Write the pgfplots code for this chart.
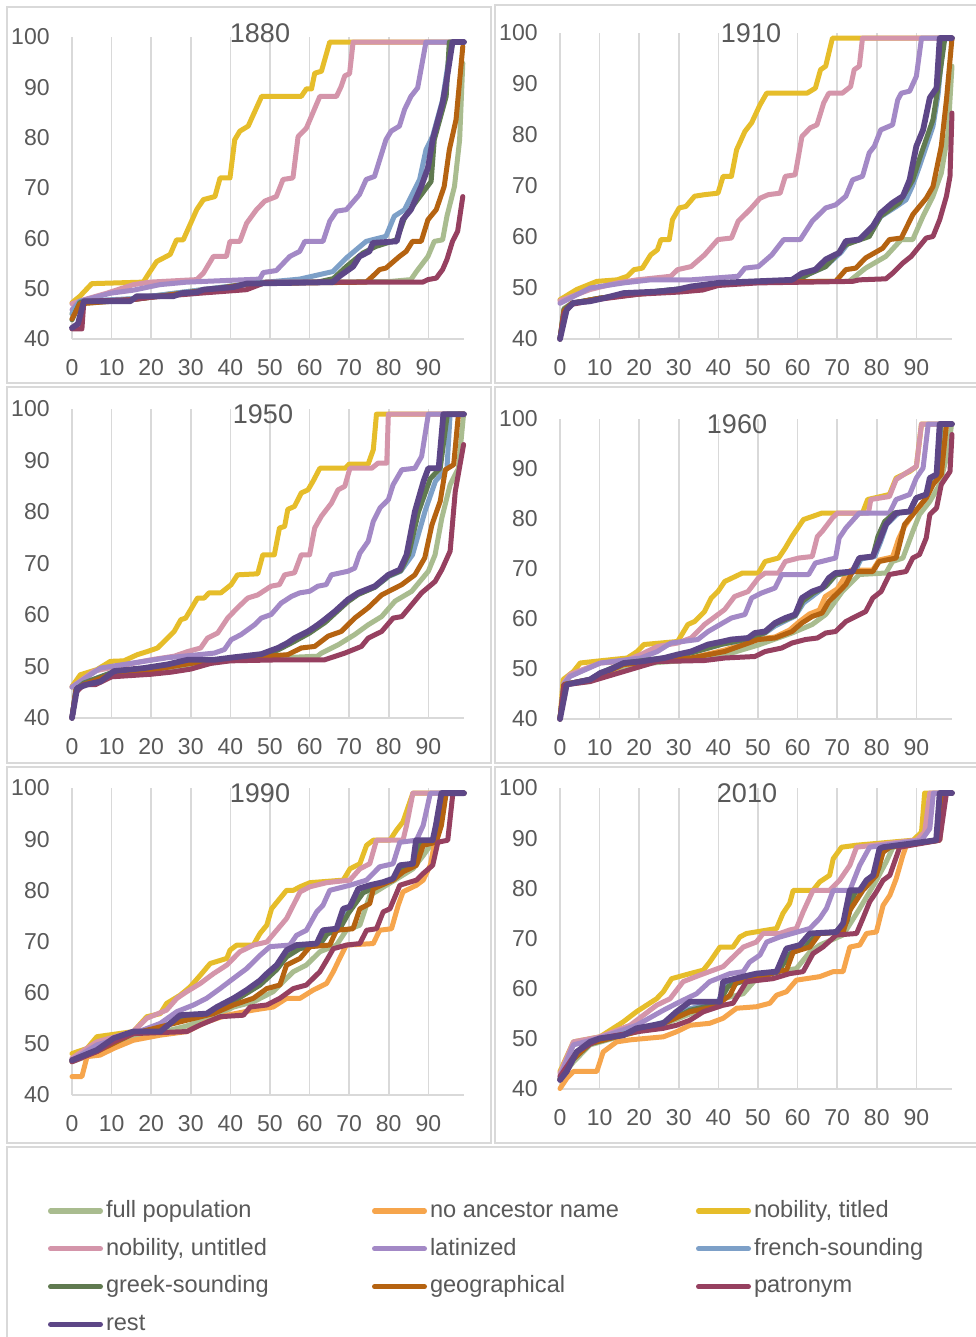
\documentclass[border=0pt]{standalone}
\usepackage{fontspec}
\setmainfont{Liberation Sans}
\usepackage{pgfplots}
\pgfplotsset{compat=1.18}
\definecolor{textgray}{HTML}{595959}
\definecolor{gridgray}{HTML}{D9D9D9}
\definecolor{cFull}{HTML}{A9BC8F}
\definecolor{cNoAnc}{HTML}{F6A54C}
\definecolor{cTitled}{HTML}{E6BD2A}
\definecolor{cUntitled}{HTML}{D495AA}
\definecolor{cLatin}{HTML}{A389C6}
\definecolor{cFrench}{HTML}{7DA0C8}
\definecolor{cGreek}{HTML}{607A50}
\definecolor{cGeo}{HTML}{B56311}
\definecolor{cPatr}{HTML}{964060}
\definecolor{cRest}{HTML}{5D4787}
\newcommand{\tickfont}{\fontsize{11.5}{13}\selectfont}
\newcommand{\titlefont}{\fontsize{13.5}{15}\selectfont}
\newcommand{\legfont}{\fontsize{11.8}{13}\selectfont}
\pgfplotsset{
  s1/.style={draw=cFull, line width=2.5pt, line join=round, line cap=round},
  s2/.style={draw=cNoAnc, line width=2.5pt, line join=round, line cap=round},
  s3/.style={draw=cTitled, line width=2.5pt, line join=round, line cap=round},
  s4/.style={draw=cUntitled, line width=2.5pt, line join=round, line cap=round},
  s5/.style={draw=cLatin, line width=2.5pt, line join=round, line cap=round},
  s6/.style={draw=cFrench, line width=2.5pt, line join=round, line cap=round},
  s7/.style={draw=cGreek, line width=2.5pt, line join=round, line cap=round},
  s8/.style={draw=cGeo, line width=2.5pt, line join=round, line cap=round},
  s9/.style={draw=cPatr, line width=2.5pt, line join=round, line cap=round},
  s10/.style={draw=cRest, line width=2.9pt, line join=round, line cap=round},
  panel/.style={
    scale only axis, width=196pt,
    xmin=0, xmax=99, ymin=40, ymax=100,
    xtick={0,10,...,90}, ytick={40,50,...,100},
    xmajorgrids, major grid style={draw=gridgray, line width=0.8pt},
    axis x line*=bottom, axis y line*=left,
    x axis line style={draw=gridgray, line width=0.8pt, -},
    y axis line style={draw=none},
    major tick length=0pt, tick style={draw=none},
    /pgf/number format/assume math mode=true,
    xticklabel style={font=\tickfont, text=textgray, inner sep=0pt, yshift=-10pt},
    yticklabel style={font=\tickfont, text=textgray, inner sep=0pt, xshift=-11pt},
    clip=false, anchor=south west, no markers,
  },
}
\begin{document}
\begin{tikzpicture}
\path[fill=white, use as bounding box] (0pt,0pt) rectangle (487.5pt,-668.5pt);
% panel frames
\begin{scope}[draw=gridgray, line width=0.9pt]
\draw (3.5pt,-3.5pt) rectangle (245.5pt,-191.5pt);
\draw (247.5pt,-2.5pt) rectangle (492pt,-191.5pt);
\draw (3.5pt,-193.5pt) rectangle (245.5pt,-381.5pt);
\draw (247.5pt,-193.5pt) rectangle (492pt,-381.5pt);
\draw (3.5pt,-383.5pt) rectangle (245.5pt,-571.5pt);
\draw (247.5pt,-383.5pt) rectangle (492pt,-571.5pt);
\draw (3.5pt,-573.5pt) rectangle (492pt,-672pt);
\end{scope}

% ---------------- 1880 ----------------
\begin{axis}[panel, height=151pt, at={(36pt,-169.5pt)}]
\addplot[s1] coordinates {(0,45)(1,47)(10,47.5)(20,48.5)(30,49.5)(40,50.5)(48,51.3)(80,51.4)(85.6,51.8)(87,53.4)(89.9,56.4)(91.5,59.4)(93.6,59.7)(94.7,64.4)(96.6,70.3)(97.9,79.6)(98.7,94.8)};
\addplot[s3] coordinates {(0,47.2)(2,48.5)(5,51)(18,51.3)(19.7,53.4)(21.4,55.4)(24.8,56.8)(26.4,59.7)(28.1,59.7)(31.5,65.7)(33.2,67.7)(36.1,68.3)(37.4,72)(39.9,72)(41.1,79.6)(42.4,81.3)(44.5,82.3)(47.9,88.2)(57.9,88.2)(59.2,89.7)(60.5,89.7)(61.3,92.8)(63,93.2)(65.1,99)(99,99)};
\addplot[s4] coordinates {(0,47)(3,47.8)(8.8,49.1)(15.5,50.8)(19.7,51.3)(31.5,51.8)(33.2,53.1)(35.7,56.4)(39,56.4)(39.9,59.4)(42.4,59.4)(44.1,63)(46.6,65.7)(48.7,67.4)(51.6,68.3)(53.3,71.7)(55.8,72)(57.1,80.2)(59.2,81.9)(62.6,88.2)(66.8,88.2)(68,90.2)(68.9,92.3)(70.1,92.7)(71,99)(99,99)};
\addplot[s5] coordinates {(0,45.8)(2,47.5)(9.7,49.1)(15.5,49.7)(22.2,50.8)(29,51.3)(47.4,51.9)(48.3,53.2)(51.6,53.6)(55,56.4)(57.5,57.4)(58.8,59.4)(63.4,59.4)(65.1,63.4)(66.8,65.4)(69.3,65.7)(72.6,68.7)(74.3,71.7)(76.4,72.3)(79.3,79.6)(80.6,81.3)(82.7,82.3)(84,85.6)(85.6,88.2)(87.3,89.9)(89.4,99)(99,99)};
\addplot[s6] coordinates {(0,45)(2,47.5)(15,48)(25,49)(35,50)(45,51)(57.5,51.9)(65.9,53.4)(69.3,56.1)(74.3,59.4)(79.3,60.4)(81.4,64.4)(84,65.7)(87.8,71.7)(89.4,77.6)(91.1,80.3)(93.6,87.5)(95.8,99)(99,99)};
\addplot[s7] coordinates {(0,43.8)(2,47.3)(15,47.8)(25,48.8)(35,49.8)(45,51)(62,51.3)(66,52)(69.3,54.4)(73.5,57.1)(76.8,58.4)(82,59.7)(84,64.1)(87,67.4)(90.7,71.3)(91.5,79.6)(94.5,88.2)(95.3,99)(99,99)};
\addplot[s8] coordinates {(0,44)(2,47)(15,47.8)(25,48.8)(35,49.8)(45,51)(74.3,51.3)(76,52.5)(77.7,53.8)(79.3,54.1)(82.7,56.4)(84.4,57.4)(86,59.4)(88.2,59.4)(89.9,63.7)(92,65.7)(94,70.3)(95.3,77.6)(97,83.6)(98.7,98.1)};
\addplot[s9] coordinates {(0,42)(2.5,42)(3,47.5)(15,47.8)(20,48.3)(32.3,49.1)(44.1,49.8)(47.4,50.8)(49.1,51.3)(88.6,51.3)(89.9,51.8)(92,52.1)(93.6,53.8)(94.7,55.8)(96.1,59.4)(97.4,61.4)(98.7,68.3)};
\addplot[s10] coordinates {(0,42.2)(1.5,43)(3,47.5)(14.7,47.5)(16.4,48.5)(25.6,48.5)(27.7,49.1)(31.5,49.3)(33.2,49.8)(40.7,50.3)(44.1,51)(65.9,51.3)(67.6,52.5)(71,54.4)(72.6,56.4)(75.1,57.4)(76,59.1)(82,59.4)(83.5,63.7)(85.6,65.7)(88.2,70.3)(89.9,74)(91.1,79.6)(93.6,86.9)(94.5,90.9)(96.1,99)(99,99)};
\end{axis}

% ---------------- 1910 ----------------
\begin{axis}[panel, height=153pt, at={(280pt,-169.5pt)}]
\addplot[s1] coordinates {(0,40)(1,46)(3,47)(10,48)(20,49)(30,49.7)(40,50.7)(50,51.3)(73,51.3)(77.2,53.9)(82.3,56.2)(86.2,59.5)(89.1,59.5)(91.7,64.1)(94.2,68)(96.3,72.5)(98,80.4)(99,93.5)};
\addplot[s3] coordinates {(0,47.7)(4.2,49.7)(9.3,51.3)(14.4,51.6)(17,52.3)(18.7,53.6)(20.8,53.9)(22.9,56.5)(24.6,57.5)(25.5,59.5)(27.6,59.5)(28.4,63.4)(30.1,65.7)(31.8,66)(34,68)(36.5,68.3)(39.9,68.6)(41.2,71.9)(43.3,71.9)(44.6,77.1)(46.7,80.7)(48.4,82.4)(50.5,85.9)(52.2,88.2)(62.4,88.2)(64.5,89.2)(65.8,92.8)(67.1,93.5)(68.8,99)(99,99)};
\addplot[s4] coordinates {(0,47.5)(7.6,49.7)(14.4,51)(19.5,51.6)(28,52.3)(29.7,53.6)(33.1,54.2)(36.5,56.5)(39.9,59.5)(43.3,59.8)(45,63.1)(48,65.4)(50.5,67.6)(52.6,68.3)(55.6,68.6)(56.9,71.9)(59.4,72.2)(61.1,79.7)(63.2,81.4)(64.9,82)(66.6,86.3)(67.9,88.2)(71.3,88.2)(73.4,89.5)(74.3,92.8)(75.6,93.5)(76.4,99)(99,99)};
\addplot[s5] coordinates {(0,47)(7.6,50)(16.1,51)(22.9,51.6)(33.1,51.6)(45,52.3)(46.7,53.9)(50.1,54.2)(53.5,56.5)(56.5,59.5)(60.7,59.5)(63.7,63.1)(67.1,65.7)(69.6,66.3)(72.2,68)(73.9,71.2)(76.4,71.9)(78.1,76.5)(79.4,77.8)(81,81)(84,82)(85.3,86.9)(86.2,88.2)(88.3,88.6)(90,91.5)(91.3,99)(99,99)};
\addplot[s6] coordinates {(0,40)(1,45.5)(3,47)(10,48)(20,49)(30,49.8)(40,50.8)(60,51.6)(63,52.8)(67,54.2)(71,57)(73,59)(78,60.2)(81,64)(85,66)(87.4,67.3)(89,70)(90.8,73.9)(94.2,81.7)(95.5,88)(96.8,99)(99,99)};
\addplot[s7] coordinates {(0,40)(1,45.8)(3,47)(10,48)(20,49)(30,49.8)(40,50.8)(60,51.6)(63,52.8)(67.1,54.2)(72.2,58.5)(78.1,60.1)(81,64.1)(85.7,66.7)(89.1,71.2)(91.3,76.5)(94.2,83)(95.5,89.5)(97.2,99)(99,99)};
\addplot[s8] coordinates {(0,40)(1,45.5)(3,47)(10,48)(20,48.8)(30,49.5)(40,50.7)(50,51.2)(69.6,51.3)(72.2,53.6)(74.7,53.9)(77.2,55.9)(81.5,57.8)(83.2,59.5)(86.2,59.8)(89.1,64.4)(92.5,67.6)(94.2,69.9)(96.3,77.8)(97.6,86.9)(99,99)};
\addplot[s9] coordinates {(0,40)(1,45)(3,46.8)(10,47.8)(20,48.8)(30,49.2)(36,49.6)(40,50.5)(50,51)(73.9,51.3)(75.6,51.6)(82.3,51.8)(84,52.9)(86.6,54.9)(88.7,56.2)(90.8,58.2)(92.5,59.8)(94.2,60.1)(95.9,63.4)(97.6,68)(98.5,71.9)(99,84.3)};
\addplot[s10] coordinates {(0,40)(1.7,45.8)(3.4,47.1)(7.6,47.4)(11,48)(16.1,49)(24.6,49.3)(29.7,49.7)(33.1,50.3)(39.9,51)(58.6,51.6)(61.1,52.9)(64.5,53.6)(67.1,55.6)(70.5,56.9)(72.2,59.2)(75.6,59.5)(79,62.1)(81,64.7)(84,66.7)(86.6,68)(88.3,71.2)(90,77.8)(91.7,81)(93.4,87.3)(95.1,89.2)(95.9,99)(99,99)};
\end{axis}

% ---------------- 1950 ----------------
\begin{axis}[panel, height=154.5pt, at={(36pt,-359pt)}]
\addplot[s1] coordinates {(0,40)(1,45.5)(3,46.5)(10,48.5)(20,49.2)(30,50.2)(40,51.2)(50,51.6)(62,52)(63,52.6)(67.2,54.2)(71.4,56.2)(74.8,58.1)(78.2,59.7)(81.6,62.7)(85.8,64.6)(90,68.5)(91.7,71.7)(93.4,78.8)(95.5,85.3)(97.6,88.5)(98.9,99)};
\addplot[s3] coordinates {(0,46.1)(2.1,48.4)(6.3,49.4)(9.7,51)(13.1,51.1)(16.5,52.3)(19,52.9)(21.6,53.6)(24.1,55.5)(25.8,56.8)(27.5,59.1)(28.7,59.4)(31.7,63.3)(33.4,63.3)(34.6,64.3)(37.6,64.3)(40.2,65.9)(41.8,67.8)(46.9,68)(48.2,71.7)(51.1,71.7)(52.4,76.9)(53.7,77.2)(54.5,80.5)(56.2,81.1)(57.9,83.7)(59.6,84.3)(60.9,86)(62.6,88.5)(69,88.5)(70,89.3)(74.8,89.3)(76.1,92.1)(76.9,99)(99,99)};
\addplot[s4] coordinates {(0,46)(5.5,49.1)(13.9,50.4)(19.9,51.3)(25.8,52)(29.2,52.9)(32.5,53.6)(34.2,55.5)(36.8,56.5)(39.3,59.4)(41.8,61.4)(44.4,63.3)(46.9,63.9)(50.3,65.6)(52.4,65.9)(53.7,67.8)(56.2,68.2)(57.9,71.7)(60,71.7)(61.3,76.9)(63,79.2)(65.5,81.7)(67.2,84.3)(68.9,85)(70.2,88.5)(75.7,88.5)(77.3,89.5)(79.5,89.5)(79.9,99)(99,99)};
\addplot[s5] coordinates {(0,46)(7.2,49.7)(15.6,50.7)(24.1,51.7)(35.9,52.6)(38.5,53.3)(40.2,55.2)(42.7,56.2)(46.1,58.1)(47.8,59.4)(50.3,60.1)(52.8,62.3)(55.4,63.6)(57.5,64.3)(60,64.6)(62.1,65.6)(64.2,65.9)(65.5,67.8)(69.7,68.5)(71.4,69.1)(72.7,72)(74.8,74.3)(76.1,78.2)(77.8,80.8)(79.9,82.4)(81.1,85.3)(83.3,88.2)(86.6,88.5)(88.3,90.8)(90,99)(99,99)};
\addplot[s6] coordinates {(0,40)(1,45.5)(3,46.8)(10,48.8)(20,49.7)(30,50.8)(40,51.5)(48,52.2)(52,53.3)(56,55)(60,56.6)(64,58.8)(66.4,60.5)(69.7,62.8)(72.3,64.1)(76.5,65.4)(80,67.5)(83,68.5)(86,71.7)(89.3,80.5)(91.8,86)(94.7,88.5)(95.5,99)(99,99)};
\addplot[s7] coordinates {(0,40)(1,45.5)(3,46.8)(10,48.8)(20,49.7)(30,50.8)(40,51.5)(48,52.2)(52,53.2)(56,54.8)(60,56.5)(64,58.6)(66.4,60.3)(69.7,62.6)(72.3,64)(76.5,65.4)(80,67.6)(83,68.6)(85,71.7)(87.5,80)(90.5,86.5)(93,88.5)(94.8,99)(99,99)};
\addplot[s8] coordinates {(0,40)(1,45.5)(3,46.5)(10,48.5)(20,49.3)(30,50.6)(40,51.3)(48,51.6)(49.5,52)(54.5,52.3)(57.9,53.6)(61.3,53.9)(64.7,55.9)(68,56.8)(71.4,59.4)(74.8,61.4)(78.2,63.9)(83.3,65.9)(86.6,67.8)(89.1,71.1)(90.9,77.5)(93,82.1)(94.3,88.2)(96.4,89.2)(97.6,99)(99,99)};
\addplot[s9] coordinates {(0,40)(1,45)(3,46.5)(6,46.5)(10,48)(20,48.5)(25,48.9)(30,49.5)(35,50.6)(40,51.1)(53,51.3)(63.8,51.3)(68.9,52.6)(73.1,53.9)(74.8,55.5)(78.2,56.8)(81.1,59.4)(83.3,59.7)(85.8,62)(88.3,64.3)(91.7,66.5)(93.4,68.8)(95.5,72.4)(96.8,84)(98.9,93.1)};
\addplot[s10] coordinates {(0,40)(1.3,45.8)(3.8,46.5)(7.2,47.1)(10.6,49.1)(18.2,49.7)(24.1,50.4)(29.2,51.3)(35.9,51.3)(41,51.8)(47.8,52.4)(52,53.6)(54.5,54.6)(56.2,55.5)(59.6,56.8)(62.1,58.1)(63.8,59.1)(66.4,60.7)(69.7,63)(72.3,64.3)(76.5,65.6)(79.9,67.8)(82.8,68.8)(84.5,71.7)(86.6,80.1)(88.8,86)(90,88.5)(92.6,88.5)(93.8,99)(99,99)};
\end{axis}

% ---------------- 1960 ----------------
\begin{axis}[panel, height=150pt, at={(280pt,-359.5pt)}]
\addplot[s1] coordinates {(0,40)(1,46.9)(7.6,47.5)(16.1,50.5)(24.6,51.3)(33.1,51.8)(41.6,52.8)(50.1,54.8)(58.6,57.2)(63.7,58.9)(67.1,60.9)(71.3,65.5)(75.6,68.9)(82.3,69.2)(84,71.5)(86.6,72.2)(89.1,77.5)(90.8,80.9)(93.4,83.5)(95.9,86.9)(98,93.5)(98.9,99)};
\addplot[s2] coordinates {(0,40)(1,46.9)(7.6,47.9)(16.1,50.9)(33.1,52.2)(41.6,53.8)(50.1,56)(54.3,56.4)(58,57.8)(60.5,59.5)(63,61)(65.5,61.8)(67,64.5)(70,66)(72,68.5)(73.5,69.8)(79,69.8)(80.6,71.8)(84,72.4)(85.5,76)(87,78.5)(89.1,80.9)(92.5,84.2)(94.2,86.9)(96.3,88.9)(97.6,99)(99,99)};
\addplot[s3] coordinates {(0,40)(0.8,47.9)(3.4,49.5)(5.1,51.2)(8.5,51.5)(17,52.2)(19.5,53.5)(21.2,54.9)(29.7,55.5)(32.3,58.9)(34,59.5)(36.5,61.5)(38.2,64.2)(39.9,65.5)(41.6,67.5)(46.1,69.2)(50.1,69.2)(51.8,71.5)(55.2,72.2)(56.9,74.2)(58.6,76.5)(61.5,79.9)(63.7,80.5)(66.2,81.2)(76.4,81.2)(77.7,83.9)(83.2,84.9)(84.9,88.2)(88.3,89.5)(90,90.5)(91.3,99)(99,99)};
\addplot[s4] coordinates {(0,40)(1,47.2)(2.5,48.9)(6.8,50.2)(10.2,51.2)(16.1,51.5)(20.4,52.9)(24.6,54.5)(29.7,55.2)(33.1,56.2)(36.5,58.9)(39.9,60.9)(41.6,61.9)(44.1,64.5)(47.5,65.5)(50.1,68.2)(51.8,69.2)(55.2,69.2)(56.9,71.5)(60.3,72.2)(63.7,72.5)(65,76.5)(66.2,77.5)(68.8,80.2)(70.1,81.2)(77.9,81.2)(78.5,83.9)(83.2,84.5)(84.9,87.9)(87.4,89.2)(90,90.5)(91.3,99)(99,99)};
\addplot[s5] coordinates {(0,40)(1,47)(2.5,48.5)(10.2,51.2)(20.4,52.2)(24.6,53.5)(28,55.2)(34.8,55.9)(37.4,57.5)(41.1,59.2)(43.3,60.2)(46.7,60.9)(48.4,64.2)(50.9,65.2)(54.3,66.2)(56,68.9)(62.8,68.9)(64.5,71.2)(69.6,72.2)(70.5,76.2)(72.2,78.2)(75.6,81.2)(83.2,81.2)(84.9,83.9)(88.3,84.9)(90,88.2)(91.7,90.2)(93,99)(99,99)};
\addplot[s6] coordinates {(0,40)(1,46.9)(7.6,47.9)(10.2,49.2)(16.1,51.2)(26.3,52.2)(33.1,53.3)(41.1,55)(47.5,55.9)(51.8,57.2)(54.3,58.6)(59.4,60.6)(61.5,63.2)(64.5,65)(67.5,66.8)(69.6,68.8)(74.5,69.5)(76,72)(79.5,72.5)(81,75.5)(82.5,78.9)(85.5,81.2)(88.3,81.5)(90,84.2)(92.5,84.9)(93.8,88.2)(95.5,88.9)(96.3,99)(99,99)};
\addplot[s7] coordinates {(0,40)(1,46.9)(7.6,47.9)(10.2,49.2)(16.1,51.2)(26.3,52.2)(33.1,53.2)(41.1,55)(47.5,56)(51.8,57.3)(54.3,59)(59.4,60.7)(61.3,63.6)(64,65.2)(67,66.5)(69.6,68.8)(74,69.5)(75.8,72.2)(79,72.5)(80.3,76.5)(82,79.5)(84.5,81.2)(88.3,81.5)(90,84.2)(92.5,84.9)(93.6,88.2)(95.3,88.9)(96.1,99)(99,99)};
\addplot[s8] coordinates {(0,40)(1,46.9)(7.6,47.9)(16.1,50.9)(33.1,52.2)(41.6,53.5)(50.1,55.9)(54.3,56.2)(58.6,57.5)(61.1,59.2)(63.7,60.5)(66.2,61.2)(67.9,63.5)(70.5,65.5)(72.2,66.9)(73.9,69.5)(79,69.5)(80.6,71.5)(84.9,72.2)(87,78.9)(89.1,80.9)(92.5,84.2)(94.2,86.9)(96.3,88.9)(97.6,99)(99,99)};
\addplot[s9] coordinates {(0,40)(1,46.8)(7.6,47.5)(16.1,49.5)(24.6,51.5)(36.5,51.7)(41.6,52.2)(49.2,52.5)(51.8,53.5)(56,54.2)(58.6,55.2)(62,55.9)(65,56.2)(67.1,57.2)(69.6,57.5)(72.2,59.5)(74.7,60.5)(77.2,61.5)(79,64.2)(81.1,65.5)(83.2,68.9)(87.4,69.5)(89.1,72.2)(90.8,72.9)(92.5,76.2)(93.4,80.9)(95.1,82.2)(96.3,86.9)(98.5,89.5)(99,96.9)};
\addplot[s10] coordinates {(0,40)(1.7,46.9)(7.6,47.9)(10.2,49.2)(12.7,49.9)(16.1,51.2)(20.4,51.5)(26.3,52.2)(29.7,52.9)(33.1,53.5)(37.4,54.9)(41.1,55.5)(43.3,55.9)(47.5,56.2)(49.2,57.2)(51.8,57.5)(54.3,59.2)(56.9,60.2)(59.4,60.9)(61.1,64.2)(63.7,65.5)(66.2,66.2)(67.9,68.2)(69.6,69.2)(73.9,69.5)(75.6,72.2)(79,72.5)(80.6,75.5)(82.3,78.9)(84.9,81.2)(88.3,81.5)(90,84.2)(92.5,84.9)(93.4,88.2)(95.1,88.9)(95.9,99)(99,99)};
\end{axis}

% ---------------- 1990 ----------------
\begin{axis}[panel, height=153.5pt, at={(36pt,-547.5pt)}]
\addplot[s1] coordinates {(0,46.5)(6.3,48.3)(10.5,50)(15.5,51.5)(22.3,52.2)(29,53.5)(35.7,55.3)(40.8,57.2)(45.8,58.2)(50.8,60.2)(55.9,64.1)(59.2,65.4)(62.6,68)(66.8,69.3)(69.3,72.2)(72.7,73.2)(75.2,79)(79.4,81)(82.8,82.6)(86.1,84.2)(88.7,86.8)(91.1,89.4)(92.8,92.7)(94.5,99)(99,99)};
\addplot[s2] coordinates {(0,43.6)(2.5,43.6)(3.8,47.5)(7.1,47.8)(10.5,49.1)(15.5,50.7)(22.3,51.7)(29,52.4)(34,54.3)(39.1,55.6)(45.8,56.6)(50.8,57.2)(54.2,58.9)(57.6,58.9)(60.9,60.5)(64.3,61.8)(66,64.1)(67.6,66.7)(69.3,69.3)(76.1,69.6)(77.7,72.2)(80.7,72.5)(82.4,77.1)(83.6,79.7)(87,81)(88.7,82)(90.5,84.9)(91.7,89.8)(94.5,99)(99,99)};
\addplot[s3] coordinates {(0,48.1)(3.8,49.1)(6.3,51.4)(15.5,52.4)(18.9,55.3)(22.3,55.9)(23.9,57.9)(27.3,59.5)(29.8,61.1)(32.4,63.4)(34.9,65.7)(39.1,66.7)(39.9,68.3)(41.6,69.3)(45.8,69.3)(47.5,71.6)(49.2,73.2)(50.4,76.4)(52.5,78.4)(54.2,80)(55.9,80)(57.6,80.7)(60.1,81.5)(68.5,82)(70.2,84.2)(72.7,85.2)(74.4,88.8)(76.1,89.8)(80.3,89.8)(81.9,91.7)(83.6,93.4)(86.1,99)(99,99)};
\addplot[s4] coordinates {(0,47.2)(6.3,50.4)(15.5,52.4)(18.9,55)(23.9,56.6)(26.5,58.9)(29,60.2)(32.4,61.8)(35.7,63.7)(39.1,65.4)(42.4,68)(45.8,69.3)(49.2,69.9)(51.7,72.2)(54.2,74.5)(55.9,77.1)(57.6,79.7)(60.1,80.7)(64.3,81.5)(70.2,82)(72.7,84.2)(75.2,85.2)(76.9,89.8)(83.6,89.8)(84.5,92.7)(86.1,99)(99,99)};
\addplot[s5] coordinates {(0,46.8)(6.3,49.8)(15.5,52)(22.3,54)(26.5,56.3)(30.7,57.6)(34,58.9)(37.4,60.8)(40.8,62.8)(44.1,64.7)(47.5,67.3)(50,69)(55,69.3)(56.7,71.2)(59.2,72.2)(61.8,75.8)(63.4,77.1)(65.1,80)(70.2,81)(74.4,82)(77.7,84.6)(81.1,85.2)(82.8,89.4)(87,89.8)(88.7,92.7)(90.5,99)(99,99)};
\addplot[s6] coordinates {(0,46.8)(6.3,48.8)(10.5,51)(15.5,52.2)(22.3,52.8)(27.3,55.3)(34,55.8)(40.8,58.6)(47.5,62)(51.7,65)(54.2,67.5)(57,69)(62,69.3)(64,71.5)(67,72.3)(68.8,75.5)(72.5,79.5)(76,80.8)(81,82)(83,84.6)(86.5,85)(87.5,89.6)(91.5,89.8)(92.3,93)(93.6,99)(99,99)};
\addplot[s7] coordinates {(0,46.6)(6.3,48.7)(10.5,50.8)(15.5,52.2)(22.3,52.8)(27.3,55)(34,55.7)(40.8,58.3)(47.5,61.5)(51.7,64.5)(54.2,67)(57.5,68.6)(62.5,69.3)(64.5,71.5)(67.5,72.3)(69.8,75.5)(73.5,79.5)(77,80.8)(81,82)(83.5,84.5)(87,85)(88,89.6)(91.5,89.8)(92.5,93)(94,99)(99,99)};
\addplot[s8] coordinates {(0,46.8)(6.3,48.5)(15.5,52)(27.3,54.3)(35.7,55.9)(40.8,57.6)(45.8,58.9)(49.2,60.8)(52.5,61.5)(54.2,65.4)(57.6,66.7)(60.1,69)(65.1,69.3)(66.8,72.2)(71,72.5)(72.7,76.4)(75.2,77.4)(76.1,80.3)(81.1,82)(83.6,83.6)(87,84.9)(88.7,88.8)(92,89.4)(93.3,92.7)(94.5,99)(99,99)};
\addplot[s9] coordinates {(0,46.5)(6.3,48.5)(10.5,50.4)(15.5,52)(29,52.4)(32.4,53.7)(37.4,55.3)(43.3,55.6)(45,57.2)(49.2,57.6)(52.5,58.9)(55.9,60.8)(59.2,61.5)(62.6,64.1)(64.3,66.3)(66,68.6)(69.3,69.3)(72.7,69.6)(74.4,72.2)(76.9,72.5)(78.6,75.8)(80.3,76.4)(82.8,81)(87,82)(88.7,83.3)(91.1,84.9)(92.4,89.4)(94.9,89.8)(96.2,99)(99,99)};
\addplot[s10] coordinates {(0,46.8)(6.3,48.8)(10.5,51.1)(15.5,52.4)(22.3,52.4)(27.3,55.6)(34,55.9)(36.6,57.2)(40.8,58.9)(44.1,60.5)(47.5,62.4)(49.2,63.7)(51.7,65.4)(54.2,68.3)(56.7,69.3)(61.8,69.6)(63.4,72.2)(66.8,72.5)(68.5,76.4)(70.2,76.8)(72.3,80.3)(75.2,81)(78.6,81.6)(81.1,82.3)(82.8,84.9)(86.1,85.2)(86.9,89.8)(91.1,89.8)(91.9,92.7)(93.3,99)(99,99)};
\end{axis}

% ---------------- 2010 ----------------
\begin{axis}[panel, height=150.5pt, at={(280pt,-544.5pt)}]
\addplot[s1] coordinates {(0,42)(3.4,45.4)(7.6,48.8)(19.3,51.4)(27.8,53.4)(36.2,56)(41.2,58)(46.3,59)(49.6,62)(54.7,63.4)(59.7,64)(63.1,67.3)(65.6,68.7)(71.5,70.7)(75.7,76)(78.2,79.3)(79.9,81.6)(82.4,85.3)(84.1,88.2)(95.9,89.6)(97.1,99)(99,99)};
\addplot[s2] coordinates {(0,40.1)(1.7,42.1)(3.4,43.5)(9.3,43.5)(10.9,47.4)(14.3,49.4)(17.7,49.8)(26.1,50.4)(29.4,51.4)(32.8,52.7)(37.8,53.1)(41.2,54.1)(44.6,56.1)(49.6,56.4)(53,57.1)(54.7,58.7)(57.2,59.4)(59.7,61.7)(65.6,62.4)(69,63.4)(71.5,63.4)(73.2,68.3)(75.7,68.7)(77.4,71)(79.9,71.3)(81.6,76.6)(83.3,78.6)(84.9,81.9)(86.6,86.6)(87.5,88.6)(95.9,89.6)(97.1,99)(99,99)};
\addplot[s3] coordinates {(0,43.5)(3.4,49.4)(10.1,50.4)(16,53.4)(19.3,55.4)(24.4,58)(26.1,59.4)(28.2,62)(32.8,63)(36.2,63.7)(37.8,65.3)(40.4,68.3)(43.7,68.3)(45.4,70.3)(47.1,71)(54.7,72)(56.3,75)(58,77)(58.9,79.6)(63.9,79.6)(65.6,81.3)(68.1,82.6)(69,85.9)(71.1,88.2)(74.9,88.6)(89.2,89.6)(91.3,91.2)(92.1,99)(99,99)};
\addplot[s4] coordinates {(0,43.1)(3.4,49.4)(10.1,50.4)(17.7,52.7)(24.4,56.7)(27.8,58)(31.1,61.4)(35.3,62.7)(41.2,64.4)(42.9,65.7)(46.3,68.3)(49.6,69.3)(51.3,71)(55.5,71)(58,71.7)(59.7,72)(61.4,75.3)(63.9,79.6)(68.1,79.6)(70.6,81.6)(73.2,84.6)(74.9,88.2)(90,89.6)(92.1,91.2)(93.4,99)(99,99)};
\addplot[s5] coordinates {(0,42.5)(3.4,48.8)(10.1,50.2)(19.3,52.7)(26.1,55.7)(30.3,57.4)(34.5,59)(37.8,61.4)(42.9,63)(46.3,63.4)(47.9,65.3)(50.5,66.7)(52.2,69.3)(55.5,70.3)(63.1,72)(65.6,74)(67.3,76)(69,79.6)(73.2,79.6)(75.7,84.6)(78.2,88.2)(91.3,89.6)(93.4,91.9)(94.3,99)(99,99)};
\addplot[s6] coordinates {(0,42)(3.4,46.5)(7.6,49.2)(19.3,51.8)(27,53.5)(32.8,56)(40,57.5)(42,61)(48,62.3)(55,63.3)(57.8,67.5)(61,68.5)(64.5,71)(70.5,71.3)(72,73.5)(73.5,79.2)(76.5,79.8)(78.5,82)(80,83)(81.2,87.9)(82.5,88.2)(95.2,89.6)(96.3,99)(99,99)};
\addplot[s7] coordinates {(0,42)(3.4,46)(7.6,49)(19.3,51.6)(27,53.4)(32.8,55.7)(40,57)(42.5,60.5)(48,62)(55,63.3)(58.2,67)(62,68.3)(65,71)(71,71.3)(72.5,73.5)(74.5,79.3)(77,80)(79,82.3)(80.5,84)(81.5,87.5)(83,88.2)(95.4,89.6)(96.5,99)(99,99)};
\addplot[s8] coordinates {(0,42)(3.4,46)(7.6,49.1)(19.3,51.4)(27.1,53.4)(32.8,55.4)(39.1,56.4)(42.9,58.7)(44.6,61.4)(49.6,62)(54.7,63.4)(57.2,63.7)(58.9,67.3)(63.1,68.3)(65.6,71)(71.5,71.3)(73.2,75.6)(76.5,79.6)(79.9,82.6)(81.6,87.2)(83.3,88.2)(95.5,89.6)(96.7,99)(99,99)};
\addplot[s9] coordinates {(0,42.5)(4.2,47.4)(10.1,50.1)(19.3,51.4)(26.1,52.1)(29.4,52.7)(32.8,53.7)(36.2,55.4)(41.2,56.7)(43.7,57.1)(47.1,61.4)(53.8,62)(58,63)(61.4,63.4)(63.9,67)(66.4,68.3)(69.8,70.7)(74.9,71)(76.5,74)(78.2,77.3)(79.9,79.3)(81.6,81.6)(83.3,82.6)(85.8,88.2)(95.9,89.6)(97.6,99)(99,99)};
\addplot[s10] coordinates {(0,41.8)(1.7,43.5)(4.2,47.4)(7.6,49.4)(10.1,50.1)(16,50.7)(19.3,52.1)(26.1,53.1)(29.4,55.4)(32.8,57.4)(40.4,57.4)(41.2,61.4)(46.3,62.4)(49.6,63)(54.7,63.4)(57.2,68)(60.6,68.7)(63.1,71)(69.8,71.3)(71.5,73)(73.2,79.6)(75.7,79.6)(77.4,81.6)(79.1,82.6)(80.7,87.9)(81.6,88.2)(95,89.6)(95.9,99)(99,99)};
\end{axis}

% titles
\node[font=\titlefont, text=textgray] at (130pt,-16.5pt) {1880};
\node[font=\titlefont, text=textgray] at (375.5pt,-16.5pt) {1910};
\node[font=\titlefont, text=textgray] at (131.5pt,-207pt) {1950};
\node[font=\titlefont, text=textgray] at (368.5pt,-212pt) {1960};
\node[font=\titlefont, text=textgray] at (130pt,-396.5pt) {1990};
\node[font=\titlefont, text=textgray] at (373.5pt,-396.5pt) {2010};

% legend
\begin{axis}[hide axis, scale only axis, width=2pt, height=2pt, anchor=south west,
  at={(24pt,-600pt)}, xmin=0, xmax=1, ymin=0, ymax=1,
  legend columns=3, legend cell align=left,
  legend style={draw=none, fill=none, inner sep=0pt, outer sep=0pt,
    row sep=7.9pt, column sep=0pt, at={(0,0)}, anchor=north west,
    nodes={inner sep=0pt, outer sep=0pt, text height=8.6pt, text depth=2.4pt, font=\legfont, text=textgray}},
  legend image code/.code={\draw[#1, line width=2.6pt, line cap=round] (1.3pt,0pt) -- (26.2pt,0pt);},
]
\addlegendimage{s1}\addlegendentry{\makebox[134.5pt][l]{\hspace{1.5pt}full population}}
\addlegendimage{s2}\addlegendentry{\makebox[134.5pt][l]{\hspace{1.5pt}no ancestor name}}
\addlegendimage{s3}\addlegendentry{\makebox[134.5pt][l]{\hspace{1.5pt}nobility, titled}}
\addlegendimage{s4}\addlegendentry{\makebox[134.5pt][l]{\hspace{1.5pt}nobility, untitled}}
\addlegendimage{s5}\addlegendentry{\makebox[134.5pt][l]{\hspace{1.5pt}latinized}}
\addlegendimage{s6}\addlegendentry{\makebox[134.5pt][l]{\hspace{1.5pt}french-sounding}}
\addlegendimage{s7}\addlegendentry{\makebox[134.5pt][l]{\hspace{1.5pt}greek-sounding}}
\addlegendimage{s8}\addlegendentry{\makebox[134.5pt][l]{\hspace{1.5pt}geographical}}
\addlegendimage{s9}\addlegendentry{\makebox[134.5pt][l]{\hspace{1.5pt}patronym}}
\addlegendimage{s10}\addlegendentry{\makebox[134.5pt][l]{\hspace{1.5pt}rest}}
\end{axis}
\end{tikzpicture}
\end{document}
